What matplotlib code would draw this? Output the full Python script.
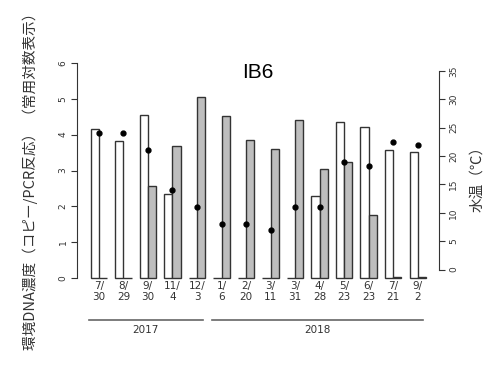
import matplotlib.pyplot as plt
import matplotlib.transforms as mtransforms
import numpy as np

# data
dates = ["7/\n30", "8/\n29", "9/\n30", "11/\n4", "12/\n3", "1/\n6", "2/\n20",
         "3/\n11", "3/\n31", "4/\n28", "5/\n23", "6/\n23", "7/\n21", "9/\n2"]
white_vals = [4.15, 3.81, 4.54, 2.34, 0, 0, 0, 0, 0, 2.29, 4.34, 4.21, 3.57, 3.52]
grey_vals = [0, 0, 2.58, 3.68, 5.06, 4.53, 3.84, 3.59, 4.41, 3.05, 3.24, 1.77, 0.03, 0.03]
water_temp = [24.0, 24.0, 21.0, 14.0, 11.0, 8.0, 8.0, 7.0, 11.0, 11.0, 19.0, 18.3, 22.5, 22.0]
years = ["2017", "2018"]
year_groups = [(0, 4), (5, 13)]

W, H = 500, 376
fig = plt.figure(figsize=(5, 3.76), dpi=100)
fig.patch.set_facecolor("white")

def fx(px):
    return px / W

def fy(py):
    return 1 - py / H

dark = "#333333"
ax = fig.add_axes([fx(77.3), fy(285), fx(439.3) - fx(77.3), fy(55) - fy(285)])
ax.set_facecolor("none")

n = len(dates)
x_white = np.arange(n) * 3 + 1
x_grey = x_white + 1
centers = x_white + 1

ax.bar(x_white, white_vals, width=1, align="edge", facecolor="white",
       edgecolor=dark, linewidth=1)
ax.bar(x_grey, grey_vals, width=1, align="edge", facecolor="#bebebe",
       edgecolor=dark, linewidth=1)
ax.set_xlim(-0.64, 43.64)
ax.set_ylim(-0.195, 6.223)

for s in ["top", "bottom", "right"]:
    ax.spines[s].set_visible(False)
ax.spines["left"].set_bounds(0, 6)
ax.spines["left"].set_color(dark)
ax.set_yticks(range(7))
ax.tick_params(axis="y", direction="out", length=4, width=0.8, colors=dark,
               labelsize=6.5, pad=3)
for lab in ax.get_yticklabels():
    lab.set_rotation(90)
    lab.set_va("center")
ax.set_xticks([])

ax2 = ax.twinx()
ax2.set_ylim(-2.726, 37.81)
ax2.plot(centers, water_temp, "o", color="black", markersize=3.5)
for s in ["top", "bottom", "left"]:
    ax2.spines[s].set_visible(False)
ax2.spines["right"].set_bounds(0, 35)
ax2.spines["right"].set_color(dark)
ax2.set_yticks(range(0, 36, 5))
ax2.tick_params(axis="y", direction="out", length=4, width=0.8, colors=dark,
                labelsize=6.5, pad=3)
for lab in ax2.get_yticklabels():
    lab.set_rotation(90)
    lab.set_va("center")

# date labels under the bars
trans = mtransforms.blended_transform_factory(ax.transData, fig.transFigure)
for c, d in zip(centers, dates):
    ax.text(c, fy(281), d, transform=trans, ha="center", va="top",
            fontsize=7.5, color=dark, linespacing=1.1, family="DejaVu Sans")

# year lines
for yr, (g0, g1) in zip(years, year_groups):
    x0 = centers[g0] - 1.2
    x1 = centers[g1] + 0.7
    ax.plot([x0, x1], [fy(320), fy(320)], transform=trans, color="#666666",
            linewidth=1.2, clip_on=False)
    ax.text((x0 + x1) / 2, fy(325), yr, transform=trans, ha="center", va="top",
            fontsize=7.5, color=dark, family="DejaVu Sans")

fig.text(fx(258), fy(72), "IB6", ha="center", va="center", fontsize=15,
         family="Liberation Sans", color="black")

fig.text(fx(30), fy(178), "環境DNA濃度（コピー/PCR反応） （常用対数表示）",
         rotation=90, ha="center", va="center", fontsize=10.5, color=dark,
         family=["Noto Sans CJK JP", "DejaVu Sans"])
fig.text(fx(477), fy(175), "水温（℃）", rotation=90, ha="center", va="center",
         fontsize=10.5, color=dark, family=["Noto Sans CJK JP", "DejaVu Sans"])

fig.savefig("out.png", dpi=100)
